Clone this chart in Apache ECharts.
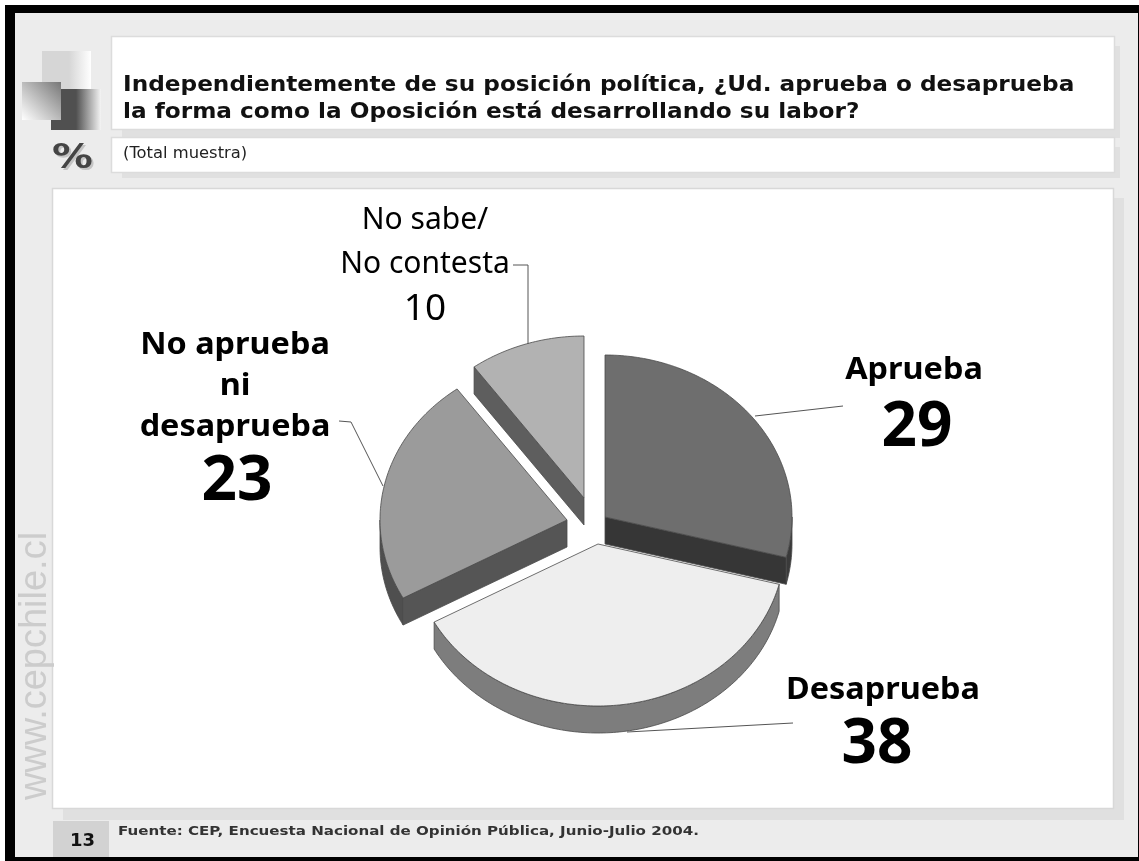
<!DOCTYPE html>
<html><head><meta charset="utf-8">
<style>html,body{margin:0;padding:0;background:#fff}#c{width:1139px;height:861px}</style>
<script src="https://cdn.jsdelivr.net/npm/echarts@6/dist/echarts.min.js"></script>
</head><body><div id="c"></div>
<script>
var categories = ['Aprueba', 'Desaprueba', 'No aprueba ni desaprueba', 'No sabe/No contesta'];
var values = [29, 38, 23, 10];
var titleLines = ['Independientemente de su posición política, ¿Ud. aprueba o desaprueba', 'la forma como la Oposición está desarrollando su labor?'];
var subtitleText = '(Total muestra)';
var sourceText = 'Fuente: CEP, Encuesta Nacional de Opinión Pública, Junio-Julio 2004.';
var pageNumber = '13';
var watermark = 'www.cepchile.cl';
var labelLines = [['Aprueba'], ['Desaprueba'], ['No aprueba', 'ni', 'desaprueba'], ['No sabe/', 'No contesta']];

// layout and style, kept apart from the data
var RX = 187, RY = 162, DEPTH = 27;
var F = '"Noto Sans"', V = '"DejaVu Sans"';
var sliceStyle = [
  {cx: 605, cy: 517, top: '#6e6e6e', wall: '#363636', rim: '#3a3a3a'},
  {cx: 598, cy: 544, top: '#eeeeee', wall: '#7d7d7d', rim: '#7d7d7d'},
  {cx: 567, cy: 520, top: '#9b9b9b', wall: '#555555', rim: '#4f4f4f'},
  {cx: 584, cy: 498, top: '#b2b2b2', wall: '#5e5e5e', rim: '#5e5e5e'}
];
var labelStyle = [
  {x: 914, y: 370, lh: 41, sx: 1.08, font: 'bold 30px ' + F, numX: 917, numY: 428, numFont: 'bold 62px ' + F, leader: [[755, 416], [843, 406]]},
  {x: 883, y: 690, lh: 41, sx: 1.08, font: 'bold 30px ' + F, numX: 877, numY: 745, numFont: 'bold 62px ' + F, leader: [[627, 732], [793, 723]]},
  {x: 235, y: 345, lh: 41, sx: 1.08, font: 'bold 30px ' + F, numX: 237, numY: 482, numFont: 'bold 62px ' + F, leader: [[383, 486], [351, 422], [339, 421]]},
  {x: 425, y: 220, lh: 44, sx: 1, font: '30px ' + F, numX: 425, numY: 309, numFont: '37px ' + F, leader: [[528, 344], [528, 265], [513, 265]]}
];

var total = values.reduce(function (a, b) { return a + b; }, 0);
var cumulative = [];
values.reduce(function (a, b, i) { cumulative[i] = a; return a + b; }, 0);

function pt(s, deg, dz) {
  var r = deg * Math.PI / 180;
  return [s.cx + RX * Math.sin(r), s.cy - RY * Math.cos(r) + (dz || 0)];
}
function arc(s, a0, a1, dz) {
  var out = [], n = Math.max(2, Math.ceil(Math.abs(a1 - a0)));
  for (var k = 0; k <= n; k++) out.push(pt(s, a0 + (a1 - a0) * k / n, dz));
  return out;
}
var edge = {stroke: '#4a4a4a', lineWidth: 0.8};
function poly(points, fill) {
  return {type: 'polygon', shape: {points: points}, style: {fill: fill, stroke: edge.stroke, lineWidth: edge.lineWidth}};
}
function text(x, y, str, font, sx) {
  return {type: 'text', x: x, y: y, scaleX: sx || 1, style: {x: 0, y: 0, text: str, font: font, fill: '#000', align: 'center', verticalAlign: 'middle'}};
}
function renderSlice(params, api) {
  var i = params.dataIndex, s = sliceStyle[i], v = api.value(0);
  var a0 = cumulative[i] / total * 360, a1 = a0 + v / total * 360;
  var kids = [];
  // outer rim: visible only on the front half of the ellipse (90..270 deg)
  var r0 = Math.max(a0, 90), r1 = Math.min(a1, 270);
  if (r1 > r0) {
    kids.push(poly(arc(s, r0, r1, 0).concat(arc(s, r1, r0, DEPTH)), s.rim));
  }
  // radial wall, seen when the slice's edge faces the viewer
  if (i === 0) {
    var e0 = pt(s, a1, 0), e1 = pt(s, a1, DEPTH);
    kids.push(poly([[s.cx, s.cy], e0, e1, [s.cx, s.cy + DEPTH]], s.wall));
  }
  if (i === 2 || i === 3) {
    var w0 = pt(s, a0, 0), w1 = pt(s, a0, DEPTH);
    kids.push(poly([[s.cx, s.cy], w0, w1, [s.cx, s.cy + DEPTH]], s.wall));
  }
  // top face
  kids.push(poly([[s.cx, s.cy]].concat(arc(s, a0, a1, 0)), s.top));
  // leader line
  var l = labelStyle[i];
  kids.push({type: 'polyline', shape: {points: l.leader}, style: {fill: null, stroke: '#555', lineWidth: 1}});
  // label text and value
  labelLines[i].forEach(function (t, k) {
    kids.push(text(l.x, l.y + k * l.lh, t, l.font, l.sx));
  });
  kids.push(text(l.numX, l.numY, String(v), l.numFont));
  return {type: 'group', children: kids};
}

function rect(x, y, w, h, fill, stroke) {
  return {type: 'rect', shape: {x: x, y: y, width: w, height: h}, silent: true,
    style: {fill: fill, stroke: stroke || null, lineWidth: stroke ? 1.5 : 0}};
}
function grad(x0, y0, x1, y1, stops) {
  return {type: 'linear', x: x0, y: y0, x2: x1, y2: y1, global: false,
    colorStops: stops.map(function (p) { return {offset: p[0], color: p[1]}; })};
}
function gtext(x, y, str, font, fill, sx) {
  return {type: 'text', silent: true, x: x, y: y, scaleX: sx || 1,
    style: {x: 0, y: 0, text: str, font: font, fill: fill, align: 'left', verticalAlign: 'middle'}};
}

var graphicEls = [
  rect(0, 0, 1139, 861, '#ffffff'),
  rect(5, 5, 1134, 856, '#000000'),
  rect(15, 13, 1123, 844, '#ececec'),
  // shadows
  rect(122, 46, 998, 92, '#e0e0e0'),
  rect(122, 147, 998, 31, '#e0e0e0'),
  rect(63, 198, 1061, 622, '#e0e0e0'),
  // panels
  rect(111.5, 36.5, 1003, 93, '#ffffff', '#dcdcdc'),
  rect(111.5, 137.5, 1003, 35, '#ffffff', '#dcdcdc'),
  rect(52.5, 188.5, 1061, 620, '#ffffff', '#d8d8d8'),
  // decoration
  {type: 'rect', silent: true, shape: {x: 42, y: 51, width: 49, height: 45},
    style: {fill: grad(0, 0, 1, 0, [[0, '#d6d6d6'], [0.55, '#d6d6d6'], [1, '#ffffff']])}},
  {type: 'rect', silent: true, shape: {x: 51, y: 89, width: 50, height: 41},
    style: {fill: grad(0, 0, 1, 0, [[0, '#505050'], [0.5, '#505050'], [1, '#f4f4f4']])}},
  {type: 'rect', silent: true, shape: {x: 22, y: 82, width: 39, height: 38},
    style: {fill: grad(1, 0, 0, 1, [[0, '#777777'], [1, '#ffffff']])}},
  gtext(54, 161, '%', 'bold 34px ' + V, '#c4c4c4', 1.2),
  gtext(52, 159, '%', 'bold 34px ' + V, '#444444', 1.2),
  // titles
  gtext(123, 85, titleLines[0], 'bold 22px ' + V, '#111111', 1.055),
  gtext(123, 112, titleLines[1], 'bold 22px ' + V, '#111111', 1.055),
  gtext(123, 154, subtitleText, '15px ' + V, '#222222', 1.09),
  // footer
  rect(53, 821, 56, 36, '#d2d2d2'),
  gtext(70, 841, pageNumber, 'bold 18px ' + V, '#111111'),
  gtext(118, 832, sourceText, 'bold 13px ' + V, '#333333', 1.16),
  // watermark
  {type: 'text', silent: true, x: 36, y: 666, rotation: Math.PI / 2,
    style: {x: 0, y: 0, text: watermark, font: '38px "Liberation Sans"', fill: '#cccccc', align: 'center', verticalAlign: 'middle'}}
];

var chart = echarts.init(document.getElementById('c'), null, {renderer: 'canvas'});
chart.setOption({
  animation: false,
  graphic: {elements: graphicEls.map(function (e) { e.z = -10; return e; })},
  series: [{
    type: 'custom',
    coordinateSystem: 'none',
    renderItem: renderSlice,
    data: categories.map(function (c, i) { return {name: c, value: [values[i]]}; }),
    silent: true,
    z: 5
  }]
});
</script></body></html>
